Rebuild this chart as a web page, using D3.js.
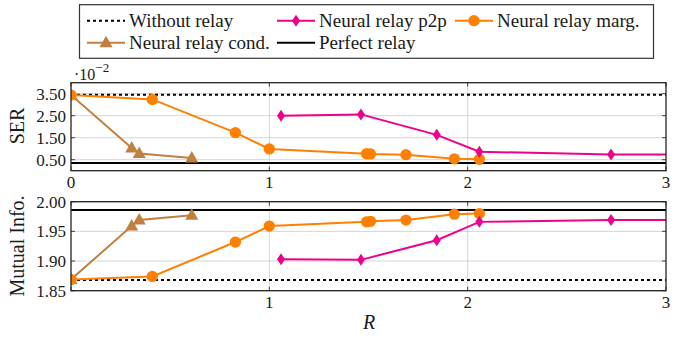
<!DOCTYPE html>
<html>
<head>
<meta charset="utf-8">
<script src="https://d3js.org/d3.v7.min.js"></script>
<style>
  body { margin: 0; background: #fff; }
</style>
</head>
<body>
<div id="chart"></div>
<script>
// ---- data ----
var p2pR   = [1.059, 1.462, 1.844, 2.059, 2.723, 3.2];
var p2pSER = [2.50, 2.56, 1.63, 0.86, 0.74, 0.74];
var p2pMI  = [1.903, 1.902, 1.935, 1.966, 1.969, 1.969];

var margR   = [0, 0.41, 0.829, 1.0, 1.49, 1.51, 1.689, 1.933, 2.059];
var margSER = [3.44, 3.24, 1.73, 0.99, 0.77, 0.76, 0.73, 0.54, 0.52];
var margMI  = [1.869, 1.874, 1.932, 1.959, 1.966, 1.967, 1.969, 1.979, 1.980];

var condR   = [0, 0.306, 0.344, 0.609];
var condSER = [3.44, 1.03, 0.78, 0.58];
var condMI  = [1.869, 1.959, 1.969, 1.977];

var noRelaySER = 3.45, perfectSER = 0.35;
var noRelayMI = 1.868, perfectMI = 1.986;

var xTicks = [0, 1, 2, 3];
var serTicks = [0.5, 1.5, 2.5, 3.5];
var miTicks = [1.85, 1.90, 1.95, 2.00];

var colP2p = "#ec008c", colMarg = "#ff8000", colCond = "#bf8040";
var FONT = "Liberation Serif";

var W = 689, H = 337;
var svg = d3.select("#chart").append("svg").attr("width", W).attr("height", H);

function label(sel) { return sel.append("text").attr("font-family", FONT).attr("fill", "#1a1a1a"); }

var x = d3.scaleLinear().domain([0, 3]).range([71, 666]);

function zip(xs, ys) { return xs.map(function (v, i) { return [v, ys[i]]; }); }

function panel(id, y, yTicks, fmt, xLabels, series, noRelay, perfect) {
    var g = svg.append("g");
    var y0 = y.range()[0], y1 = y.range()[1];
    g.append("clipPath").attr("id", id).append("rect")
        .attr("x", x(0)).attr("y", y1).attr("width", x(3) - x(0)).attr("height", y0 - y1);

    // grid
    g.selectAll(".hg").data(yTicks).enter().append("line")
        .attr("x1", x(0)).attr("x2", x(3)).attr("y1", d => y(d)).attr("y2", d => y(d))
        .attr("stroke", "#cccccc").attr("stroke-width", 0.8);
    g.selectAll(".vg").data([1, 2]).enter().append("line")
        .attr("x1", d => x(d)).attr("x2", d => x(d)).attr("y1", y1).attr("y2", y0)
        .attr("stroke", "#cccccc").attr("stroke-width", 0.8);

    // tick marks
    yTicks.forEach(function (t) {
        g.append("line").attr("x1", x(0)).attr("x2", x(0) + 4).attr("y1", y(t)).attr("y2", y(t)).attr("stroke", "#444");
        g.append("line").attr("x1", x(3)).attr("x2", x(3) - 4).attr("y1", y(t)).attr("y2", y(t)).attr("stroke", "#444");
    });
    xTicks.forEach(function (t) {
        g.append("line").attr("x1", x(t)).attr("x2", x(t)).attr("y1", y0).attr("y2", y0 - 4).attr("stroke", "#444");
        g.append("line").attr("x1", x(t)).attr("x2", x(t)).attr("y1", y1).attr("y2", y1 + 4).attr("stroke", "#444");
    });

    // tick labels
    yTicks.forEach(function (t) {
        label(g).attr("x", x(0) - 5).attr("y", y(t) + 6)
            .attr("text-anchor", "end").attr("font-size", 17).text(fmt(t));
    });
    xLabels.forEach(function (t) {
        label(g).attr("x", x(t)).attr("y", y0 + 17.5)
            .attr("text-anchor", "middle").attr("font-size", 17).text(t);
    });

    var inner = g.append("g").attr("clip-path", "url(#" + id + ")");

    // reference lines
    inner.append("line").attr("x1", x(0)).attr("x2", x(3)).attr("y1", y(noRelay)).attr("y2", y(noRelay))
        .attr("stroke", "#000").attr("stroke-width", 2).attr("stroke-dasharray", "3,3");
    inner.append("line").attr("x1", x(0)).attr("x2", x(3)).attr("y1", y(perfect)).attr("y2", y(perfect))
        .attr("stroke", "#000").attr("stroke-width", 2);

    var line = d3.line().x(d => x(d[0])).y(d => y(d[1]));
    series.forEach(function (s) {
        inner.append("path").datum(s.pts).attr("d", line)
            .attr("fill", "none").attr("stroke", s.color).attr("stroke-width", 2);
        inner.selectAll(null).data(s.pts).enter().append("path")
            .attr("transform", d => "translate(" + x(d[0]) + "," + y(d[1]) + ")")
            .attr("d", s.marker).attr("fill", s.color);
    });

    // frame
    g.append("rect").attr("x", x(0)).attr("y", y1).attr("width", x(3) - x(0)).attr("height", y0 - y1)
        .attr("fill", "none").attr("stroke", "#222").attr("stroke-width", 1.3);
}

var circle = d3.symbol().type(d3.symbolCircle).size(100)();
var diamond = "M0,-6L4,0L0,6L-4,0Z";
var triangle = "M0,-7L6.5,4.5L-6.5,4.5Z";

var ySER = d3.scaleLinear().domain([0, 4]).range([170.7, 82.7]);
panel("clipTop", ySER, serTicks, d => d.toFixed(2), xTicks, [
    { pts: zip(condR, condSER), color: colCond, marker: triangle },
    { pts: zip(margR, margSER), color: colMarg, marker: circle },
    { pts: zip(p2pR, p2pSER), color: colP2p, marker: diamond }
], noRelaySER, perfectSER);

var yMI = d3.scaleLinear().domain([1.85, 2.0]).range([290.7, 201.7]);
panel("clipBot", yMI, miTicks, d => d.toFixed(2), [1, 2, 3], [
    { pts: zip(condR, condMI), color: colCond, marker: triangle },
    { pts: zip(margR, margMI), color: colMarg, marker: circle },
    { pts: zip(p2pR, p2pMI), color: colP2p, marker: diamond }
], noRelayMI, perfectMI);

// exponent label
var ex = label(svg).attr("x", 74).attr("y", 80).attr("font-size", 16);
ex.append("tspan").text("·10");
ex.append("tspan").attr("dy", -8).attr("font-size", 13).text("−2");

// axis titles
label(svg).attr("transform", "translate(24,126) rotate(-90)")
    .attr("text-anchor", "middle").attr("font-size", 20).text("SER");
label(svg).attr("transform", "translate(24,246) rotate(-90)")
    .attr("text-anchor", "middle").attr("font-size", 20).text("Mutual Info.");
label(svg).attr("x", 369).attr("y", 329).attr("text-anchor", "middle")
    .attr("font-size", 20).attr("font-style", "italic").text("R");

// legend
var legend = svg.append("g");
legend.append("rect").attr("x", 79.5).attr("y", 4.7).attr("width", 574).attr("height", 53.6)
    .attr("fill", "#fff").attr("stroke", "#333").attr("stroke-width", 1.2);
var items = [
    { label: "Without relay", color: "#000", dash: "3,3", marker: null, x: 87, row: 0 },
    { label: "Neural relay p2p", color: colP2p, marker: diamond, x: 277, row: 0 },
    { label: "Neural relay marg.", color: colMarg, marker: circle, x: 455, row: 0 },
    { label: "Neural relay cond.", color: colCond, marker: triangle, x: 87, row: 1 },
    { label: "Perfect relay", color: "#000", marker: null, x: 277, row: 1 }
];
items.forEach(function (it) {
    var cy = it.row === 0 ? 20.7 : 42.7;
    legend.append("line").attr("x1", it.x).attr("x2", it.x + 38).attr("y1", cy).attr("y2", cy)
        .attr("stroke", it.color).attr("stroke-width", 2).attr("stroke-dasharray", it.dash || null);
    if (it.marker) {
        legend.append("path").attr("transform", "translate(" + (it.x + 19) + "," + cy + ")")
            .attr("d", it.marker).attr("fill", it.color);
    }
    label(legend).attr("x", it.x + 42).attr("y", cy + 6.5).attr("font-size", 19).text(it.label);
});
</script>
</body>
</html>
